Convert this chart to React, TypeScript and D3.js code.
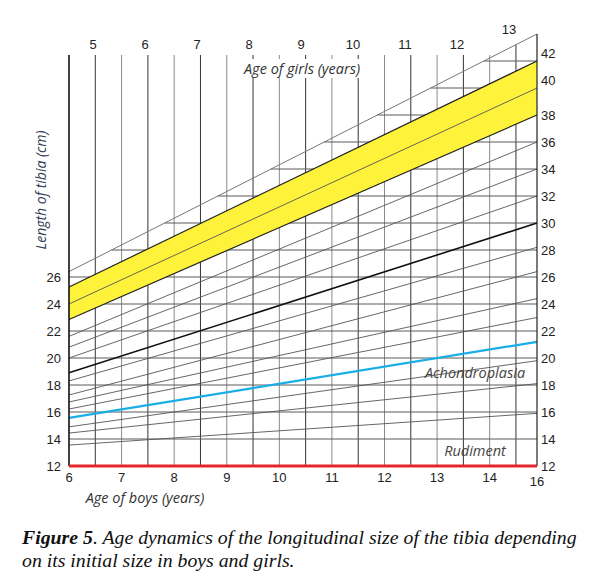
import React from "react";
import * as d3 from "d3";

// ---- data ----
const boyTickLabels = [6, 7, 8, 9, 10, 11, 12, 13, 14];
const boyEndLabel = "16";
const girlTickLabels = [5, 6, 7, 8, 9, 10, 11, 12, 13];
const gridAges = [6.5, 7, 7.5, 8, 8.5, 9, 9.5, 10, 10.5, 11, 11.5, 12, 12.5, 13, 13.5, 14, 14.5];
const leftLengthTicks = [12, 14, 16, 18, 20, 22, 24, 26];
const rightLengthTicks = [12, 14, 16, 18, 20, 22, 24, 26, 28, 30, 32, 34, 36, 38, 40, 42];
// fan of growth lines: length at start age (left) and at end age (right), cm
const fanStart = [26.4, 25.26, 24.0, 22.85, 21.6, 20.8, 20.0, 18.9, 18.3, 17.26, 16.74, 16.22, 15.56, 14.9, 14.44, 13.55];
const fanEnd = [44, 42, 40, 38, 36, 34, 32, 30, 28.2, 26.4, 24.4, 23, 21.2, 19.8, 18.1, 15.9];
const normTopIndex = 1;
const normBottomIndex = 3;
const boldIndex = 7;
const achondroplasiaIndex = 12;
const rudiment = [12, 12];

const W = 601;
const H = 581;

export default function App() {
  const x = d3.scaleLinear().domain([6, 14.9]).range([69, 537]);
  const xGirl = d3.scaleLinear().domain([5, 13]).range([93, 509]);
  const y = d3.scaleLinear().domain([12, 42]).range([466, 61]);
  const x0 = x.domain()[0];
  const x1 = x.domain()[1];
  const xL = x(x0);
  const xR = x(x1);

  const lineAt = (i: number, xp: number) => {
    const t = (xp - xL) / (xR - xL);
    return y(fanStart[i] + (fanEnd[i] - fanStart[i]) * t);
  };
  const topCross = (v: number) => {
    const t = (v - fanStart[0]) / (fanEnd[0] - fanStart[0]);
    return Math.max(xL, xL + t * (xR - xL));
  };
  const topY = 55;

  const band = d3.area<number>()
    .x((d) => d)
    .y0((d) => lineAt(normBottomIndex, d))
    .y1((d) => lineAt(normTopIndex, d));

  const sans = "'Liberation Sans', Arial, sans-serif";
  const ital = "'Open Sans', sans-serif";
  const serif = "'Liberation Serif', 'Times New Roman', serif";

  return (
    <svg width={W} height={H} style={{ position: "absolute", left: 0, top: 0, background: "#fff" }}>
      <rect x={0} y={0} width={W} height={H} fill="#fff" />
      {/* vertical grid */}
      {gridAges.map((a) => {
        const xp = x(a);
        const yt = Math.min(topY, lineAt(0, xp));
        const half = a % 1 !== 0;
        return (
          <line key={"v" + a} x1={xp} x2={xp} y1={yt} y2={y(12)}
            stroke={half ? "#333" : "#8a8a8a"} strokeWidth={1} />
        );
      })}
      {/* horizontal grid */}
      {rightLengthTicks.map((v) => (
        <line key={"h" + v} x1={topCross(v)} x2={xR} y1={y(v)} y2={y(v)}
          stroke="#5a5a5a" strokeWidth={1} />
      ))}
      {/* normal band */}
      <path d={band([xL, xR]) || ""} fill="#fff23a" />
      {/* fan lines */}
      {fanStart.map((s, i) => {
        let stroke = "#555";
        let sw = 0.9;
        if (i === normTopIndex || i === normBottomIndex) { stroke = "#222"; sw = 1.2; }
        if (i === boldIndex) { stroke = "#111"; sw = 1.6; }
        if (i === achondroplasiaIndex) { stroke = "#19aee6"; sw = 2.2; }
        if (i === 0) { stroke = "#777"; sw = 1; }
        return (
          <line key={"f" + i} x1={xL} y1={y(s)} x2={xR} y2={y(fanEnd[i])}
            stroke={stroke} strokeWidth={sw} />
        );
      })}
      {/* label mask */}
      <rect x={236} y={59} width={134} height={19} fill="#fff" />
      {/* axes */}
      <line x1={xL} x2={xL} y1={topY} y2={y(12)} stroke="#111" strokeWidth={1.6} />
      <line x1={xR} x2={xR} y1={lineAt(0, xR)} y2={y(12)} stroke="#222" strokeWidth={1.2} />
      {/* rudiment */}
      <line x1={xL} x2={xR} y1={y(rudiment[0])} y2={y(rudiment[1])} stroke="#e3262b" strokeWidth={3} />

      {/* left ticks */}
      {leftLengthTicks.map((v) => (
        <text key={"lt" + v} x={61} y={y(v)} textAnchor="end" dominantBaseline="central"
          fontFamily={sans} fontSize={13} fill="#222">{v}</text>
      ))}
      {/* right ticks */}
      {rightLengthTicks.map((v) => (
        <text key={"rt" + v} x={541} y={y(v) - (v >= 40 ? 8 : 0)} textAnchor="start" dominantBaseline="central"
          fontFamily={sans} fontSize={13} fill="#222">{v}</text>
      ))}
      {/* bottom ticks */}
      {boyTickLabels.map((a) => (
        <text key={"bt" + a} x={x(a)} y={477} textAnchor="middle" dominantBaseline="central"
          fontFamily={sans} fontSize={13} fill="#222">{a}</text>
      ))}
      <text x={xR} y={481} textAnchor="middle" dominantBaseline="central"
        fontFamily={sans} fontSize={13} fill="#222">{boyEndLabel}</text>
      {/* top ticks */}
      {girlTickLabels.map((g, i) => (
        <text key={"gt" + g} x={xGirl(g)} y={i === girlTickLabels.length - 1 ? 29 : 44}
          textAnchor="middle" dominantBaseline="central"
          fontFamily={sans} fontSize={13} fill="#222">{g}</text>
      ))}

      {/* axis titles */}
      <text x={302} y={68} textAnchor="middle" dominantBaseline="central" fontFamily={ital}
        fontStyle="italic" fontSize={14.5} fill="#333">Age of girls (years)</text>
      <text x={145} y={497} textAnchor="middle" dominantBaseline="central" fontFamily={ital}
        fontStyle="italic" fontSize={14.5} fill="#333">Age of boys (years)</text>
      <text transform="translate(40,190) rotate(-90)" textAnchor="middle" dominantBaseline="central"
        fontFamily={ital} fontStyle="italic" fontSize={14} fill="#303a52">Length of tibia (cm)</text>
      <text x={475} y={372} textAnchor="middle" dominantBaseline="central" fontFamily={ital}
        fontStyle="italic" fontSize={14.5} fill="#444">Achondroplasia</text>
      <text x={475} y={450} textAnchor="middle" dominantBaseline="central" fontFamily={ital}
        fontStyle="italic" fontSize={14.5} fill="#444">Rudiment</text>

      {/* caption */}
      <text x={22} y={544} fontFamily={serif} fontStyle="italic" fontSize={19.8} fill="#111">
        <tspan fontWeight="bold">Figure 5</tspan>. Age dynamics of the longitudinal size of the tibia depending
      </text>
      <text x={22} y={567} fontFamily={serif} fontStyle="italic" fontSize={19.8} fill="#111">
        on its initial size in boys and girls.
      </text>
    </svg>
  );
}
